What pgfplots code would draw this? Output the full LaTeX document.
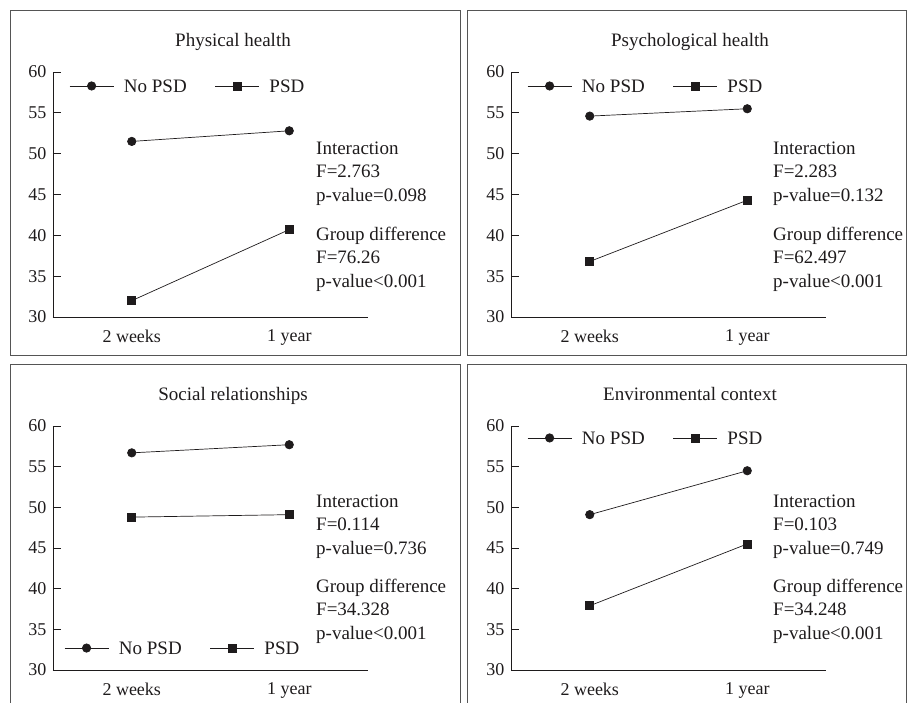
\documentclass[border=0pt]{standalone}
\usepackage{fontspec}
\setmainfont{Liberation Serif}
\usepackage{pgfplots}
\pgfplotsset{compat=1.18}
\definecolor{ink}{RGB}{30,27,28}
\definecolor{framecol}{RGB}{85,85,85}
\pgfplotsset{
  panel/.style={
    anchor=south west, scale only axis,
    width=315bp, height=245bp,
    xmin=-0.5, xmax=1.5, ymin=30, ymax=60,
    axis x line*=bottom, axis y line*=left,
    axis line style={-, line width=0.8bp, color=ink},
    xtick={0,1}, xticklabels={2 weeks,1 year},
    x tick style={draw=none},
    ytick={30,35,40,45,50,55,60},
    y tick style={line width=0.8bp, color=ink},
    tick align=inside, major tick length=8bp,
    /pgf/number format/assume math mode=true,
    tick label style={font=\fontsize{18bp}{20bp}\selectfont, text=ink},
    xticklabel style={yshift=-9bp},
    yticklabel style={xshift=-3bp},
    clip=false,
    legend columns=2,
    legend style={draw=none, fill=none, inner sep=0pt,
      font=\fontsize{19bp}{22bp}\selectfont, text=ink,
      nodes={inner sep=0pt, text depth=0pt},
      /tikz/every even column/.append style={column sep=28bp}},
    legend image code/.code={
      \draw[mark repeat=2,mark phase=2,##1] plot coordinates {(0bp,0bp) (22bp,0bp) (44bp,0bp)};
      \node[anchor=west] at (44bp,0bp) {\hspace*{10bp}};
    },
  },
  nopsd/.style={color=ink, line width=0.7bp, mark=*, mark size=4.2bp, mark options={solid, fill=ink}},
  psd/.style={color=ink, line width=0.7bp, mark=square*, mark size=4bp, mark options={solid, fill=ink}},
}
\newcommand{\txt}[3]{\node[anchor=base west, inner sep=0pt, text=ink, font=\fontsize{19bp}{22bp}\selectfont] at (#1bp,-#2bp) {#3};}
\newcommand{\ttl}[3]{\node[anchor=base, inner sep=0pt, text=ink, font=\fontsize{19bp}{22bp}\selectfont] at (#1bp,-#2bp) {#3};}
\begin{document}
\begin{tikzpicture}
\useasboundingbox (0bp,0bp) rectangle (907bp,-703bp);
% frames
\draw[framecol, line width=0.9bp] (10bp,-10bp) rectangle (460bp,-355bp);
\draw[framecol, line width=0.9bp] (467bp,-10bp) rectangle (906bp,-355bp);
\draw[framecol, line width=0.9bp] (10bp,-710bp) -- (10bp,-364bp) -- (460bp,-364bp) -- (460bp,-710bp);
\draw[framecol, line width=0.9bp] (467bp,-710bp) -- (467bp,-364bp) -- (906bp,-364bp) -- (906bp,-710bp);

% Panel 1
\begin{axis}[panel, at={(53bp,-317bp)}, legend style={at={(0.051,0.943)}, anchor=west}]
\addplot[nopsd] coordinates {(0,51.5) (1,52.8)};
\addplot[psd] coordinates {(0,32.0) (1,40.7)};
\legend{No PSD, PSD}
\end{axis}
\ttl{233}{46}{Physical health}
\txt{316}{154}{Interaction}
\txt{316}{177.5}{F=2.763}
\txt{316}{201}{p-value=0.098}
\txt{316}{240}{Group difference}
\txt{316}{263.5}{F=76.26}
\txt{316}{287}{p-value<0.001}

% Panel 2
\begin{axis}[panel, at={(511bp,-317bp)}, legend style={at={(0.051,0.943)}, anchor=west}]
\addplot[nopsd] coordinates {(0,54.6) (1,55.5)};
\addplot[psd] coordinates {(0,36.8) (1,44.3)};
\legend{No PSD, PSD}
\end{axis}
\ttl{690}{46}{Psychological health}
\txt{773}{154}{Interaction}
\txt{773}{177.5}{F=2.283}
\txt{773}{201}{p-value=0.132}
\txt{773}{240}{Group difference}
\txt{773}{263.5}{F=62.497}
\txt{773}{287}{p-value<0.001}

% Panel 3
\begin{axis}[panel, height=244bp, at={(53bp,-670bp)}, legend style={at={(0.035,0.09)}, anchor=west}]
\addplot[nopsd] coordinates {(0,56.7) (1,57.7)};
\addplot[psd] coordinates {(0,48.8) (1,49.1)};
\legend{No PSD, PSD}
\end{axis}
\ttl{233}{400}{Social relationships}
\txt{316}{507}{Interaction}
\txt{316}{530.5}{F=0.114}
\txt{316}{554}{p-value=0.736}
\txt{316}{592}{Group difference}
\txt{316}{615.5}{F=34.328}
\txt{316}{639}{p-value<0.001}

% Panel 4
\begin{axis}[panel, height=244bp, at={(511bp,-670bp)}, legend style={at={(0.051,0.951)}, anchor=west}]
\addplot[nopsd] coordinates {(0,49.1) (1,54.5)};
\addplot[psd] coordinates {(0,37.9) (1,45.5)};
\legend{No PSD, PSD}
\end{axis}
\ttl{690}{400}{Environmental context}
\txt{773}{507}{Interaction}
\txt{773}{530.5}{F=0.103}
\txt{773}{554}{p-value=0.749}
\txt{773}{592}{Group difference}
\txt{773}{615.5}{F=34.248}
\txt{773}{639}{p-value<0.001}
\end{tikzpicture}
\end{document}
